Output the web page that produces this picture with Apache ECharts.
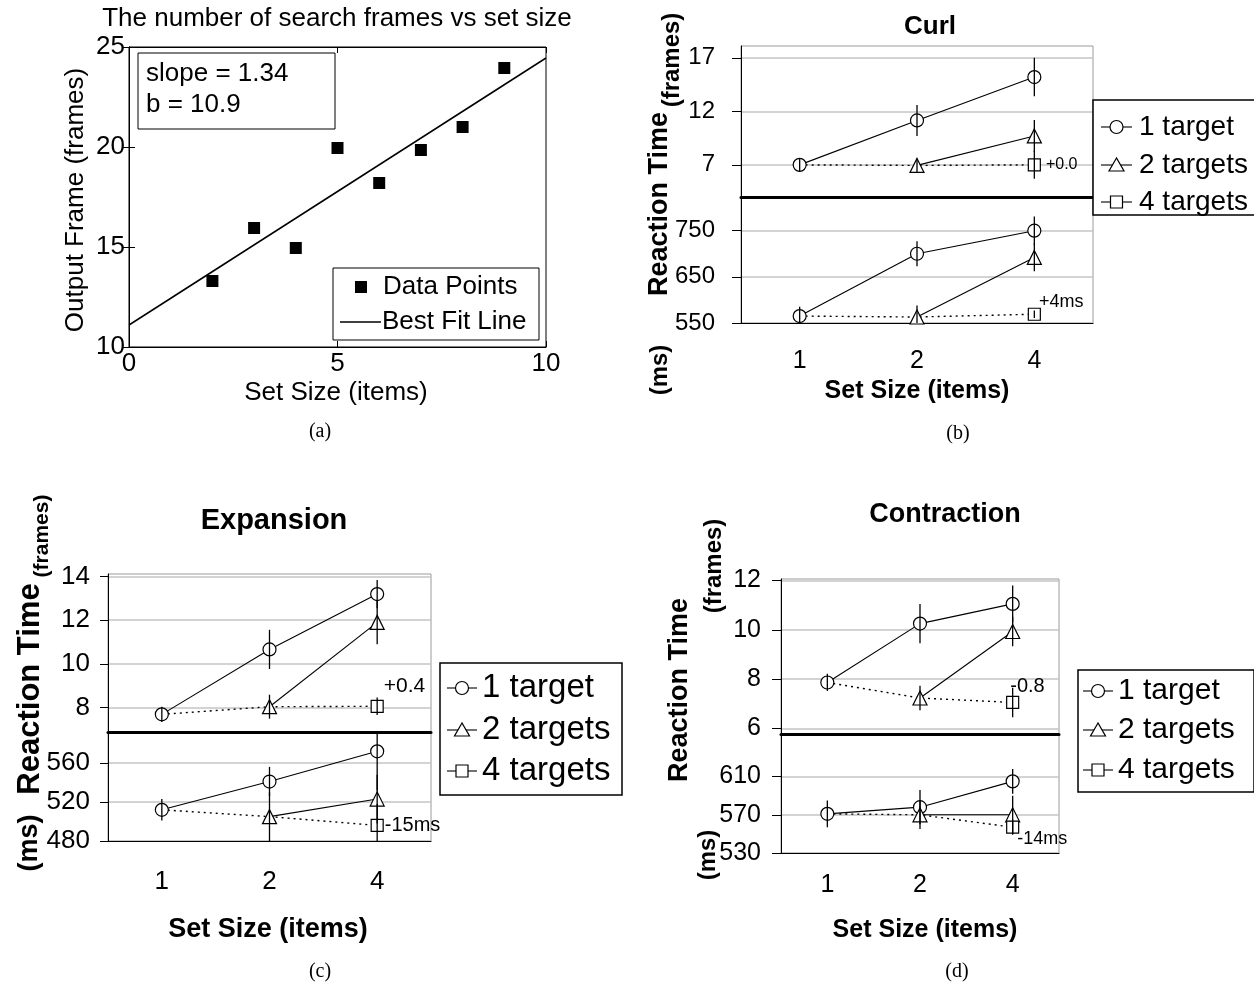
<!DOCTYPE html>
<html><head><meta charset="utf-8">
<script src="https://cdn.jsdelivr.net/npm/echarts@6/dist/echarts.min.js"></script>
<style>html,body{margin:0;padding:0;background:#fff}#c{width:1254px;height:986px}</style>
</head><body><div id="c"></div>
<script>
// ---------------- data ----------------
const setSizes = ['1', '2', '4'];

// (a) search frames vs set size
const aSetSize = [2, 3, 4, 5, 6, 7, 8, 9];
const aFrames = [13.3, 15.95, 14.95, 19.95, 18.2, 19.85, 21.0, 23.95];
const aFitSetSize = [0, 10];
const aFitFrames = [11.1, 24.45];

// (b) Curl
const curlFrames1 = [7.0, 11.15, 15.2];
const curlFrames2 = [null, 6.95, 9.7];
const curlFrames4 = [null, null, 7.0];
const curlFramesErr1 = [0.65, 1.45, 1.8];
const curlFramesErr2 = [null, 0.65, 1.5];
const curlFramesErr4 = [null, null, 1.3];
const curlMs1 = [565, 700, 750];
const curlMs2 = [null, 563, 692];
const curlMs4 = [null, null, 569];
const curlMsErr1 = [20, 27, 31];
const curlMsErr2 = [null, 25, 30];
const curlMsErr4 = [null, null, 8];
const curlFrameTicks = [7, 12, 17];
const curlMsTicks = [550, 650, 750];
const curlFrameNote = '+0.0';
const curlMsNote = '+4ms';

// (c) Expansion
const expFrames1 = [7.68, 10.66, 13.2];
const expFrames2 = [null, 8.03, 11.9];
const expFrames4 = [null, null, 8.05];
const expFramesErr1 = [0.35, 0.9, 0.65];
const expFramesErr2 = [null, 0.55, 1.0];
const expFramesErr4 = [null, null, 0.4];
const expMs1 = [512, 541, 572];
const expMs2 = [null, 505, 523];
const expMs4 = [null, null, 496];
const expMsErr1 = [11, 15, 40];
const expMsErr2 = [null, 25, 25];
const expMsErr4 = [null, null, 22];
const expFrameTicks = [8, 10, 12, 14];
const expMsTicks = [480, 520, 560];
const expFrameNote = '+0.4';
const expMsNote = '-15ms';

// (d) Contraction
const conFrames1 = [7.86, 10.25, 11.05];
const conFrames2 = [null, 7.23, 9.93];
const conFrames4 = [null, null, 7.05];
const conFramesErr1 = [0.35, 0.8, 0.75];
const conFramesErr2 = [null, 0.5, 0.6];
const conFramesErr4 = [null, null, 0.6];
const conMs1 = [571, 578, 605];
const conMs2 = [null, 570, 570];
const conMs4 = [null, null, 557];
const conMsErr1 = [14, 18, 13];
const conMsErr2 = [null, 15, 20];
const conMsErr4 = [null, null, 8];
const conFrameTicks = [6, 8, 10, 12];
const conMsTicks = [530, 570, 610];
const conFrameNote = '-0.8';
const conMsNote = '-14ms';

const legendNames = ['1 target', '2 targets', '4 targets'];

// ---------------- helpers ----------------
const F = 'Liberation Sans';
const SERIF = 'Liberation Serif';

function catAxis(gi, showLabels, lineWidth, fs, margin) {
  return {
    type: 'category', gridIndex: gi, data: setSizes, boundaryGap: true,
    axisLine: {show: true, onZero: false, lineStyle: {color: '#000', width: lineWidth}},
    axisTick: {show: false},
    axisLabel: {show: showLabels, fontSize: fs, color: '#000', fontFamily: F, margin: margin},
    splitLine: {show: false}
  };
}
function valAxis(gi, min, max, ticks, fs, margin, tickLen) {
  return {
    type: 'value', gridIndex: gi, min: min, max: max,
    axisLine: {show: true, lineStyle: {color: '#000', width: 1}},
    axisTick: {show: true, length: tickLen, lineStyle: {color: '#000'}, customValues: ticks},
    axisLabel: {fontSize: fs, color: '#000', fontFamily: F, margin: margin, customValues: ticks},
    splitLine: {show: true, lineStyle: {color: '#c4c4c4', width: 1.5}}
  };
}
function errData(vals, errs) {
  const out = [];
  vals.forEach((v, i) => { if (v != null && errs[i] != null) out.push([i, v - errs[i], v + errs[i]]); });
  return out;
}
function errRender(params, api) {
  const p1 = api.coord([api.value(0), api.value(1)]);
  const p2 = api.coord([api.value(0), api.value(2)]);
  const cs = params.coordSys;
  const clamp = y => Math.min(Math.max(y, cs.y), cs.y + cs.height);
  return {type: 'line', shape: {x1: p1[0], y1: clamp(p1[1]), x2: p2[0], y2: clamp(p2[1])},
    style: {stroke: '#000', lineWidth: 1.3}};
}
function mkLine(xi, yi, data, symbol, size, z) {
  return {type: 'line', xAxisIndex: xi, yAxisIndex: yi, data: data, symbol: symbol, symbolSize: size,
    showSymbol: true, connectNulls: false, silent: true, z: z,
    lineStyle: {color: '#000', width: 1.1},
    itemStyle: {color: '#fff', borderColor: '#000', borderWidth: 1.2}};
}
function panelSeries(xi, yi, v1, v2, v4, e1, e2, e4, note, noteStyle) {
  const diag = [v1[0], v2[1], v4[2]];
  const v4d = v4.map((v, i) => (i === 2 && v != null) ? {value: v, label: Object.assign({
      show: true, formatter: note, position: 'right', color: '#000', fontFamily: F}, noteStyle)} : v);
  return [
    {type: 'line', xAxisIndex: xi, yAxisIndex: yi, data: diag, symbol: 'none', silent: true, z: 2,
      lineStyle: {color: '#000', width: 1.4, type: [2, 4]}},
    mkLine(xi, yi, v1, 'circle', 13, 3),
    mkLine(xi, yi, v2, 'triangle', 14, 3),
    mkLine(xi, yi, v4d, 'rect', 12, 3),
    {type: 'custom', xAxisIndex: xi, yAxisIndex: yi, renderItem: errRender, silent: true, z: 5,
      encode: {x: 0, y: [1, 2]},
      data: errData(v1, e1).concat(errData(v2, e2), errData(v4, e4))}
  ];
}
function txt(text, x, y, fs, opt) {
  opt = opt || {};
  return {type: 'text', x: x, y: y, rotation: opt.rotation || 0, z: 20, silent: true,
    style: {text: text, fontSize: fs, fontFamily: opt.family || F, fontWeight: opt.weight || 'normal',
      fill: '#000', textAlign: opt.align || 'center', textVerticalAlign: 'middle',
      align: opt.align || 'center', verticalAlign: 'middle'}};
}
function legendBlock(box, ys, lx1, lx2, tx, fs) {
  const els = [{type: 'rect', shape: box, style: {fill: '#fff', stroke: '#000', lineWidth: 1.5}, z: 15, silent: true}];
  const cx = (lx1 + lx2) / 2;
  ys.forEach((y, i) => {
    els.push({type: 'line', shape: {x1: lx1, y1: y, x2: lx2, y2: y}, style: {stroke: '#000', lineWidth: 1.1}, z: 16, silent: true});
    let sym;
    if (i === 0) sym = {type: 'circle', shape: {cx: cx, cy: y, r: 6.5}};
    else if (i === 1) sym = {type: 'polygon', shape: {points: [[cx, y - 7], [cx - 7.5, y + 6], [cx + 7.5, y + 6]]}};
    else sym = {type: 'rect', shape: {x: cx - 6, y: y - 6, width: 12, height: 12}};
    sym.style = {fill: '#fff', stroke: '#000', lineWidth: 1.2}; sym.z = 17; sym.silent = true;
    els.push(sym);
    els.push(txt(legendNames[i], tx, y, fs, {align: 'left'}));
  });
  return els;
}
const RAD = Math.PI / 2;
const AFS = 26;

// ---------------- option ----------------
const option = {
  animation: false,
  backgroundColor: '#fff',
  textStyle: {fontFamily: F, color: '#000'},
  grid: [
    {left: 129, top: 47, width: 417, height: 300, show: true, borderColor: '#000', borderWidth: 1, backgroundColor: 'transparent'},
    {left: 741, top: 46, width: 352, height: 151, show: true, borderColor: '#9a9a9a', borderWidth: 1},
    {left: 741, top: 197, width: 352, height: 126, show: true, borderColor: '#9a9a9a', borderWidth: 1},
    {left: 108, top: 574, width: 323, height: 158, show: true, borderColor: '#9a9a9a', borderWidth: 1},
    {left: 108, top: 732, width: 323, height: 109, show: true, borderColor: '#9a9a9a', borderWidth: 1},
    {left: 781, top: 579, width: 278, height: 155, show: true, borderColor: '#9a9a9a', borderWidth: 1},
    {left: 781, top: 734, width: 278, height: 119, show: true, borderColor: '#9a9a9a', borderWidth: 1}
  ],
  xAxis: [
    {type: 'value', gridIndex: 0, min: 0, max: 10, interval: 5,
      axisLine: {lineStyle: {color: '#000'}}, axisTick: {inside: true, length: 6, lineStyle: {color: '#000'}},
      axisLabel: {fontSize: AFS, color: '#000', fontFamily: F, margin: 4}, splitLine: {show: false}},
    {type: 'value', gridIndex: 0, min: 0, max: 10, interval: 5, position: 'top',
      axisLine: {lineStyle: {color: '#000'}}, axisTick: {inside: true, length: 6, lineStyle: {color: '#000'}},
      axisLabel: {show: false}, splitLine: {show: false}},
    catAxis(1, false, 3, 24, 26),
    catAxis(2, true, 1.2, 25, 26),
    catAxis(3, false, 3, 26, 28),
    catAxis(4, true, 1.2, 26, 28),
    catAxis(5, false, 3, 25, 20),
    catAxis(6, true, 1.2, 25, 20)
  ],
  yAxis: [
    {type: 'value', gridIndex: 0, min: 10, max: 25, interval: 5,
      axisLine: {lineStyle: {color: '#000'}}, axisTick: {inside: true, length: 6, lineStyle: {color: '#000'}},
      axisLabel: {fontSize: AFS, color: '#000', fontFamily: F, margin: 4}, splitLine: {show: false}},
    {type: 'value', gridIndex: 0, min: 10, max: 25, interval: 5, position: 'right',
      axisLine: {lineStyle: {color: '#000'}}, axisTick: {inside: true, length: 6, lineStyle: {color: '#000'}},
      axisLabel: {show: false}, splitLine: {show: false}},
    valAxis(1, 4.0, 18.1, curlFrameTicks, 24, 26, 9),
    valAxis(2, 550, 823, curlMsTicks, 24, 26, 9),
    valAxis(3, 6.87, 14.12, expFrameTicks, 26, 18, 8),
    valAxis(4, 480, 591.8, expMsTicks, 26, 18, 8),
    valAxis(5, 5.77, 12.06, conFrameTicks, 25, 20, 9),
    valAxis(6, 530, 654.6, conMsTicks, 25, 20, 9)
  ],
  series: [].concat(
    [
      {type: 'scatter', xAxisIndex: 0, yAxisIndex: 0, symbol: 'rect', symbolSize: 12, silent: true, z: 4,
        itemStyle: {color: '#000', opacity: 1}, data: aSetSize.map((x, i) => [x, aFrames[i]])},
      {type: 'line', xAxisIndex: 0, yAxisIndex: 0, symbol: 'none', silent: true, z: 3,
        lineStyle: {color: '#000', width: 1.5}, data: aFitSetSize.map((x, i) => [x, aFitFrames[i]])}
    ],
    panelSeries(2, 2, curlFrames1, curlFrames2, curlFrames4, curlFramesErr1, curlFramesErr2, curlFramesErr4,
      curlFrameNote, {fontSize: 16, offset: [0, 0]}),
    panelSeries(3, 3, curlMs1, curlMs2, curlMs4, curlMsErr1, curlMsErr2, curlMsErr4,
      curlMsNote, {fontSize: 18, offset: [-7, -12]}),
    panelSeries(4, 4, expFrames1, expFrames2, expFrames4, expFramesErr1, expFramesErr2, expFramesErr4,
      expFrameNote, {fontSize: 21, offset: [-5, -20]}),
    panelSeries(5, 5, expMs1, expMs2, expMs4, expMsErr1, expMsErr2, expMsErr4,
      expMsNote, {fontSize: 20, offset: [-4, 0]}),
    panelSeries(6, 6, conFrames1, conFrames2, conFrames4, conFramesErr1, conFramesErr2, conFramesErr4,
      conFrameNote, {fontSize: 20, offset: [-14, -16]}),
    panelSeries(7, 7, conMs1, conMs2, conMs4, conMsErr1, conMsErr2, conMsErr4,
      conMsNote, {fontSize: 18, offset: [-7, 12]})
  ),
  graphic: {elements: [].concat(
    [
      // (a)
      txt('The number of search frames vs set size', 337, 19, AFS),
      txt('Set Size (items)', 336, 393, AFS),
      txt('Output Frame (frames)', 76, 200, AFS, {rotation: RAD}),
      {type: 'rect', shape: {x: 138, y: 53, width: 197, height: 76}, style: {fill: '#fff', stroke: '#000', lineWidth: 1}, z: 15, silent: true},
      txt('slope = 1.34', 146, 74, AFS, {align: 'left'}),
      txt('b = 10.9', 146, 105, AFS, {align: 'left'}),
      {type: 'rect', shape: {x: 333, y: 268, width: 206, height: 72}, style: {fill: '#fff', stroke: '#000', lineWidth: 1}, z: 15, silent: true},
      {type: 'rect', shape: {x: 355, y: 281, width: 12, height: 12}, style: {fill: '#000'}, z: 16, silent: true},
      txt('Data Points', 383, 287, AFS, {align: 'left'}),
      {type: 'line', shape: {x1: 340, y1: 322, x2: 381, y2: 322}, style: {stroke: '#000', lineWidth: 1.5}, z: 16, silent: true},
      txt('Best Fit Line', 382, 322, AFS, {align: 'left'}),
      txt('(a)', 320, 432, 20, {family: SERIF}),
      // (b)
      txt('Curl', 930, 27, 26, {weight: 'bold'}),
      txt('Set Size (items)', 917, 391, 25, {weight: 'bold'}),
      txt('(frames)', 672, 60, 24, {weight: 'bold', rotation: RAD}),
      txt('Reaction Time', 660, 204, 27, {weight: 'bold', rotation: RAD}),
      txt('(ms)', 660, 370, 24, {weight: 'bold', rotation: RAD}),
      txt('(b)', 958, 434, 20, {family: SERIF}),
      // (c)
      txt('Expansion', 274, 521, 29, {weight: 'bold'}),
      txt('Set Size (items)', 268, 930, 27, {weight: 'bold'}),
      txt('(frames)', 42, 536, 21, {weight: 'bold', rotation: RAD}),
      txt('Reaction Time', 30, 689, 31, {weight: 'bold', rotation: RAD}),
      txt('(ms)', 30, 843, 27, {weight: 'bold', rotation: RAD}),
      txt('(c)', 320, 972, 20, {family: SERIF}),
      // (d)
      txt('Contraction', 945, 515, 27, {weight: 'bold'}),
      txt('Set Size (items)', 925, 930, 25, {weight: 'bold'}),
      txt('(frames)', 714, 566, 24, {weight: 'bold', rotation: RAD}),
      txt('Reaction Time', 680, 690, 27, {weight: 'bold', rotation: RAD}),
      txt('(ms)', 708, 855, 24, {weight: 'bold', rotation: RAD}),
      txt('(d)', 957, 972, 20, {family: SERIF})
    ],
    legendBlock({x: 1093, y: 100, width: 170, height: 115}, [127, 165, 202], 1101, 1132, 1139, 28),
    legendBlock({x: 440, y: 663, width: 182, height: 132}, [688, 730, 771], 447, 477, 482, 33),
    legendBlock({x: 1078, y: 670, width: 176, height: 122}, [691, 730, 770], 1083, 1113, 1118, 30)
  )}
};

const chart = echarts.init(document.getElementById('c'), null, {renderer: 'canvas'});
chart.setOption(option);
</script>
</body></html>
